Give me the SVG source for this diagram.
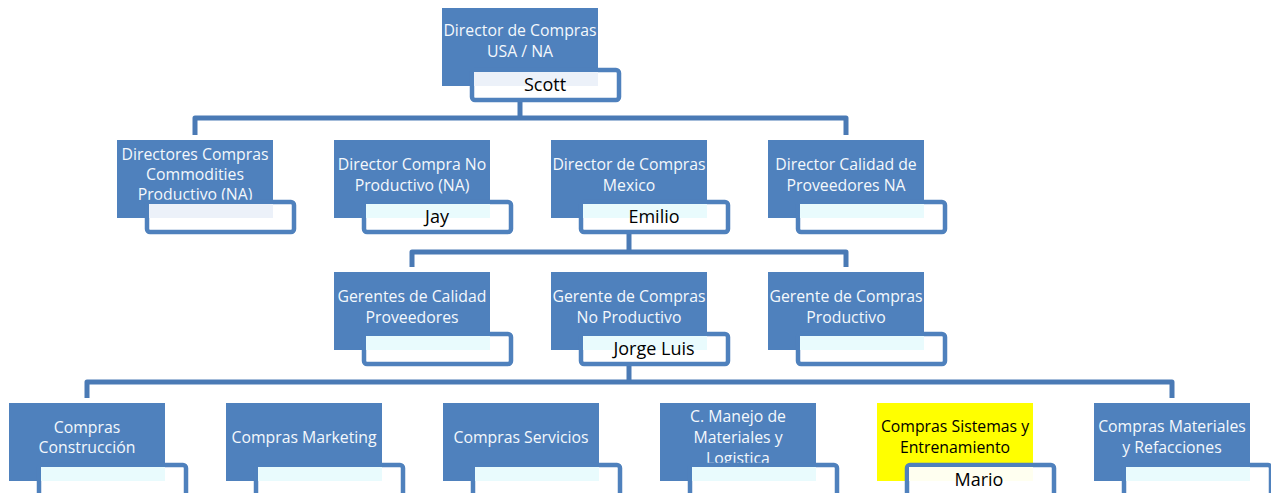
<svg xmlns="http://www.w3.org/2000/svg" width="1271" height="493" viewBox="0 0 1271 493">
<style>
.box{fill:#4f81bd}
.ybox{fill:#ffff00}
.name{fill:#ffffff;stroke:#4f81bd;stroke-width:4.5}
.band{fill:#e9fbfd}
.bandg{fill:#ecf1f9}
.t{font-family:"Open Sans","Liberation Sans",sans-serif;font-size:15.8px;fill:#f4f8fc;text-anchor:middle}
.tk{font-family:"Open Sans","Liberation Sans",sans-serif;font-size:15.8px;fill:#000000;text-anchor:middle}
.n{font-family:"Open Sans","Liberation Sans",sans-serif;font-size:18px;fill:#000000;text-anchor:middle}
.c{fill:none;stroke:#4a7ab5;stroke-width:5;stroke-linejoin:round}
</style>
<rect width="1271" height="493" fill="#ffffff"/>
<g id="connectors">
<path class="c" d="M520 100 V118"/>
<path class="c" d="M195 135 V118 H846 V135"/>
<path class="c" d="M629 232 V252"/>
<path class="c" d="M412 267 V252 H846 V267"/>
<path class="c" d="M629 364 V382"/>
<path class="c" d="M87 398 V382 H1172 V398"/>
</g>
<g id="n-scott">
<rect class="box" x="442" y="8" width="156" height="78"/>
<text class="t" x="520" y="36">Director de Compras</text>
<text class="t" x="520" y="57">USA / NA</text>
<rect class="name" x="472" y="70" width="147" height="30" rx="3"/>
<rect class="bandg" x="474" y="72" width="124" height="14"/>
<text class="n" x="545" y="91">Scott</text>
</g>
<g id="n-commodities">
<rect class="box" x="117" y="140" width="156" height="78"/>
<text class="t" x="195" y="160">Directores Compras</text>
<text class="t" x="195" y="180">Commodities</text>
<text class="t" x="195" y="200">Productivo (NA)</text>
<rect class="name" x="147" y="202" width="147" height="30" rx="3"/>
<rect class="bandg" x="149" y="204" width="124" height="14"/>
</g>
<g id="n-jay">
<rect class="box" x="334" y="140" width="156" height="78"/>
<text class="t" x="412" y="170">Director Compra No</text>
<text class="t" x="412" y="191">Productivo (NA)</text>
<rect class="name" x="364" y="202" width="147" height="30" rx="3"/>
<rect class="band" x="366" y="204" width="124" height="14"/>
<text class="n" x="437" y="223">Jay</text>
</g>
<g id="n-emilio">
<rect class="box" x="551" y="140" width="156" height="78"/>
<text class="t" x="629" y="170">Director de Compras</text>
<text class="t" x="629" y="191">Mexico</text>
<rect class="name" x="581" y="202" width="147" height="30" rx="3"/>
<rect class="band" x="583" y="204" width="124" height="14"/>
<text class="n" x="654" y="223">Emilio</text>
</g>
<g id="n-calidad-na">
<rect class="box" x="768" y="140" width="156" height="78"/>
<text class="t" x="846" y="170">Director Calidad de</text>
<text class="t" x="846" y="191">Proveedores NA</text>
<rect class="name" x="798" y="202" width="147" height="30" rx="3"/>
<rect class="band" x="800" y="204" width="124" height="14"/>
</g>
<g id="n-gerentes-calidad">
<rect class="box" x="334" y="272" width="156" height="78"/>
<text class="t" x="412" y="302">Gerentes de Calidad</text>
<text class="t" x="412" y="323">Proveedores</text>
<rect class="name" x="364" y="334" width="147" height="30" rx="3"/>
<rect class="band" x="366" y="336" width="124" height="14"/>
</g>
<g id="n-jorge">
<rect class="box" x="551" y="272" width="156" height="78"/>
<text class="t" x="629" y="302">Gerente de Compras</text>
<text class="t" x="629" y="323">No Productivo</text>
<rect class="name" x="581" y="334" width="147" height="30" rx="3"/>
<rect class="band" x="583" y="336" width="124" height="14"/>
<text class="n" x="654" y="355">Jorge Luis</text>
</g>
<g id="n-productivo">
<rect class="box" x="768" y="272" width="156" height="78"/>
<text class="t" x="846" y="302">Gerente de Compras</text>
<text class="t" x="846" y="323">Productivo</text>
<rect class="name" x="798" y="334" width="147" height="30" rx="3"/>
<rect class="band" x="800" y="336" width="124" height="14"/>
</g>
<g id="n-construccion">
<rect class="box" x="9" y="403" width="156" height="78"/>
<text class="t" x="87" y="433">Compras</text>
<text class="t" x="87" y="453">Construcción</text>
<rect class="name" x="39" y="465" width="147" height="32" rx="3"/>
<rect class="band" x="41" y="467" width="124" height="14"/>
</g>
<g id="n-marketing">
<rect class="box" x="226" y="403" width="156" height="78"/>
<text class="t" x="304" y="443">Compras Marketing</text>
<rect class="name" x="256" y="465" width="147" height="32" rx="3"/>
<rect class="band" x="258" y="467" width="124" height="14"/>
</g>
<g id="n-servicios">
<rect class="box" x="443" y="403" width="156" height="78"/>
<text class="t" x="521" y="443">Compras Servicios</text>
<rect class="name" x="473" y="465" width="147" height="32" rx="3"/>
<rect class="band" x="475" y="467" width="124" height="14"/>
</g>
<g id="n-manejo">
<rect class="box" x="660" y="403" width="156" height="78"/>
<text class="t" x="738" y="422">C. Manejo de</text>
<text class="t" x="738" y="443">Materiales y</text>
<text class="t" x="738" y="464">Logistica</text>
<rect class="name" x="690" y="465" width="147" height="32" rx="3"/>
<rect class="band" x="692" y="467" width="124" height="14"/>
</g>
<g id="n-mario">
<rect class="ybox" x="877" y="403" width="156" height="78"/>
<text class="tk" x="955" y="432">Compras Sistemas y</text>
<text class="tk" x="955" y="453">Entrenamiento</text>
<rect class="name" x="907" y="465" width="147" height="32" rx="3"/>
<rect fill="#fffff0" x="909" y="467" width="124" height="14"/>
<text class="n" x="979" y="486">Mario</text>
</g>
<g id="n-materiales">
<rect class="box" x="1094" y="403" width="156" height="78"/>
<text class="t" x="1172" y="432">Compras Materiales</text>
<text class="t" x="1172" y="453">y Refacciones</text>
<rect class="name" x="1124" y="465" width="147" height="32" rx="3"/>
<rect class="band" x="1126" y="467" width="124" height="14"/>
</g>
</svg>
